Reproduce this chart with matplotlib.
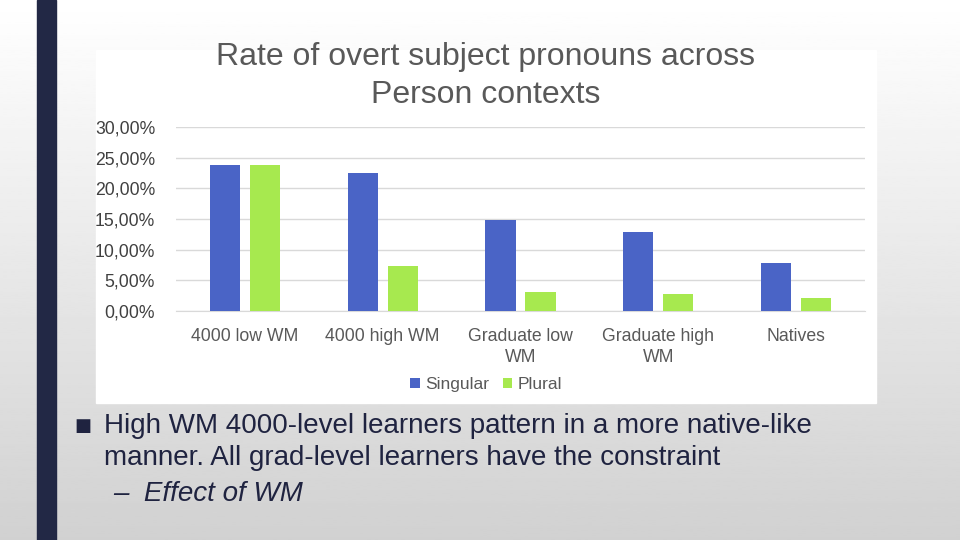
import numpy as np
import matplotlib.pyplot as plt
from matplotlib.patches import Rectangle
from matplotlib.ticker import FuncFormatter

plt.rcParams['font.family'] = ['Liberation Sans', 'DejaVu Sans']

# Data
groups = ['4000 low WM', '4000 high WM', 'Graduate low\nWM', 'Graduate high\nWM', 'Natives']
singular = [23.8, 22.5, 14.9, 12.8, 7.8]
plural = [23.8, 7.3, 3.1, 2.8, 2.1]
y_ticks = [0, 5, 10, 15, 20, 25, 30]

blue = '#4a64c6'
green = '#a7e94f'
navy = '#222845'

fig = plt.figure(figsize=(9.6, 5.4), dpi=100)

# slide background: white to light grey gradient
bg = fig.add_axes([0, 0, 1, 1])
grad = np.linspace(1.0, 0.82, 256).reshape(-1, 1)
bg.imshow(grad, aspect='auto', cmap='gray', vmin=0, vmax=1, extent=[0, 1, 0, 1])
bg.set_xlim(0, 1)
bg.set_ylim(0, 1)
bg.axis('off')

# left accent bar
bg.add_patch(Rectangle((37 / 960, 0), 19 / 960, 1, color=navy, zorder=2))
# white chart panel
bg.add_patch(Rectangle((96 / 960, 1 - 403 / 540), 780 / 960, 353 / 540,
                       color='white', zorder=2))

# title
fig.text(486 / 960, 1 - 76 / 540, 'Rate of overt subject pronouns across\nPerson contexts',
         ha='center', va='center', fontsize=23, color='#595959', linespacing=1.33)

# chart
ax = fig.add_axes([176 / 960, 1 - 311 / 540, 689 / 960, 184 / 540])
x = np.arange(len(groups))
w = 0.218
off = 0.145
ax.bar(x - off, singular, w, color=blue, label='Singular', zorder=3)
ax.bar(x + off, plural, w, color=green, label='Plural', zorder=3)

ax.set_xlim(-0.5, len(groups) - 0.5)
ax.set_ylim(0, 30)
ax.set_yticks(y_ticks)
ax.yaxis.set_major_formatter(FuncFormatter(lambda v, p: f'{v:.2f}'.replace('.', ',') + '%'))
ax.grid(axis='y', color='#d9d9d9', linewidth=1, zorder=0)
ax.set_xticks(x)
ax.set_xticklabels(groups, fontsize=12.7, color='#595959', linespacing=1.35)
ax.tick_params(axis='y', length=0, pad=15, labelsize=12.7, labelcolor='#404040')
ax.tick_params(axis='x', length=0, pad=12)
for s in ax.spines.values():
    s.set_visible(False)
ax.spines['bottom'].set_visible(True)
ax.spines['bottom'].set_color('#d9d9d9')
ax.set_facecolor('none')

leg = ax.legend(loc='center', bbox_to_anchor=(0.45, -0.4), ncol=2, frameon=False,
                fontsize=12.5, handlelength=0.55, handleheight=0.55, handletextpad=0.3,
                columnspacing=0.8)
for t in leg.get_texts():
    t.set_color('#595959')

# bullet text
txt = '#1f2340'
fig.text(74 / 960, 1 - 426 / 540, '\u25a0', fontsize=13, color=txt, va='center',
         family='DejaVu Sans')
fig.text(104 / 960, 1 - 442 / 540,
         'High WM 4000-level learners pattern in a more native-like\n'
         'manner. All grad-level learners have the constraint',
         fontsize=20, color=txt, va='center', linespacing=1.3)
fig.text(113 / 960, 1 - 494 / 540, '\u2013  Effect of WM', fontsize=20, color=txt,
         va='center', style='italic')

fig.savefig('out.png', dpi=100)
